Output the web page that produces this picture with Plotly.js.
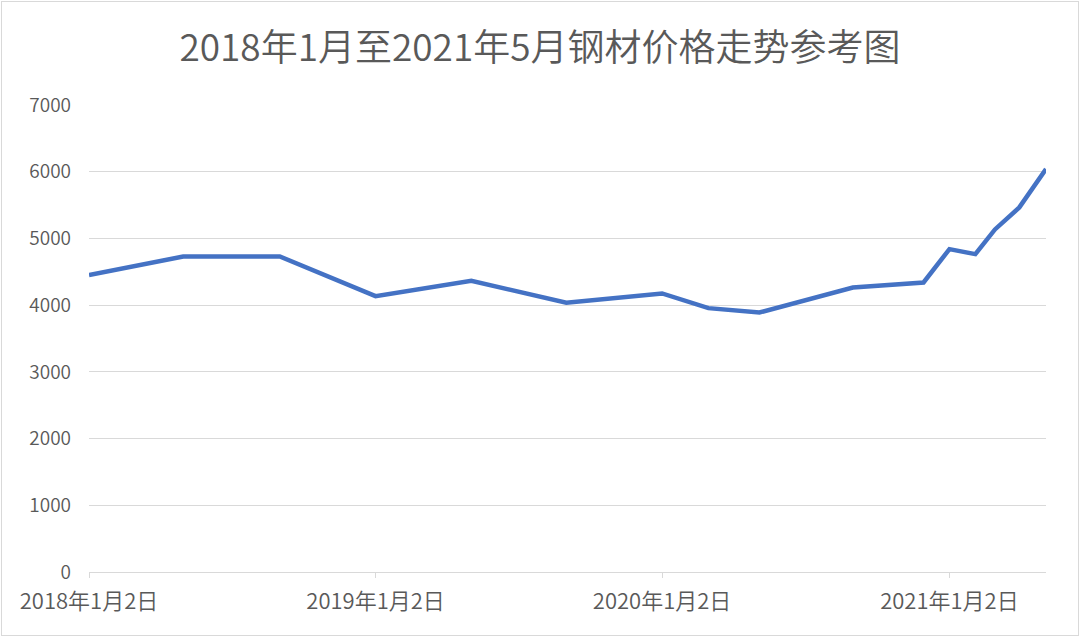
<!DOCTYPE html>
<html>
<head>
<meta charset="utf-8">
<script src="https://cdn.plot.ly/plotly-3.0.1.min.js"></script>
<style>
  html, body { margin: 0; padding: 0; background: #fff; }
  #chart { position: absolute; left: 1px; top: 1px; width: 1076px; height: 633px; border: 1px solid #d9d9d9; }
</style>
</head>
<body>
<div id="chart"></div>
<script>
const titleText = '2018年1月至2021年5月钢材价格走势参考图';
const dates = ['2018-01-02','2018-05-02','2018-09-02','2019-01-02','2019-05-04','2019-09-02','2020-01-02','2020-03-01','2020-05-05','2020-09-01','2020-11-30','2021-01-02','2021-02-04','2021-03-01','2021-04-01','2021-05-05'];
const prices = [4450,4730,4730,4135,4365,4035,4175,3955,3890,4265,4340,4840,4765,5135,5465,6040];
const xTickVals = ['2018-01-02','2019-01-02','2020-01-02','2021-01-02'];
const xTickText = ['2018年1月2日','2019年1月2日','2020年1月2日','2021年1月2日'];
const yTickVals = [0,1000,2000,3000,4000,5000,6000,7000];

const font = '"Noto Sans CJK SC", "Noto Sans", sans-serif';

Plotly.newPlot('chart', [{
  x: dates,
  y: prices,
  type: 'scatter',
  mode: 'lines',
  line: { color: '#4472C4', width: 4.5 },
  hoverinfo: 'x+y'
}], {
  width: 1076,
  height: 633,
  paper_bgcolor: '#ffffff',
  plot_bgcolor: '#ffffff',
  margin: { l: 87, r: 32, t: 103, b: 63 },
  showlegend: false,
  title: {
    text: titleText,
    font: { family: font, size: 37, color: '#595959', weight: 350 },
    x: 0.5, xanchor: 'center',
    y: 0.927, yanchor: 'middle'
  },
  xaxis: {
    type: 'date',
    range: [dates[0], dates[dates.length - 1]],
    tickmode: 'array',
    tickvals: xTickVals,
    ticktext: xTickText,
    showgrid: false,
    zeroline: false,
    showline: true,
    linecolor: '#d9d9d9',
    linewidth: 1,
    ticks: 'outside',
    ticklen: 5,
    tickcolor: '#d9d9d9',
    ticklabelstandoff: 5,
    tickfont: { family: font, size: 22, color: '#595959', weight: 350 }
  },
  yaxis: {
    range: [0, 7000],
    tickmode: 'array',
    tickvals: yTickVals,
    showgrid: true,
    gridcolor: '#d9d9d9',
    gridwidth: 1,
    zeroline: false,
    showline: false,
    ticks: '',
    ticklabelstandoff: 17,
    tickfont: { family: font, size: 19, color: '#595959', weight: 350 }
  }
}, { displayModeBar: false, staticPlot: true });
</script>
</body>
</html>
